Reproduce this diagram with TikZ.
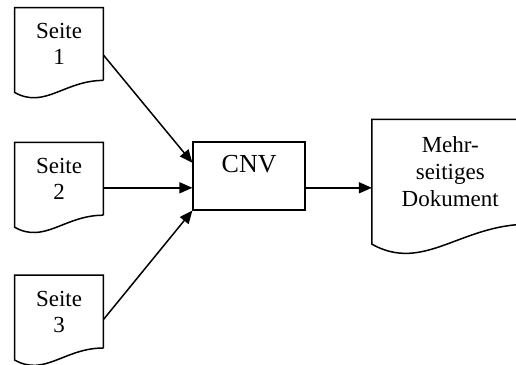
\documentclass[tikz,border=0pt]{standalone}
\usepackage{fontspec}
\setmainfont{Liberation Serif}
\usetikzlibrary{arrows.meta, positioning}

\begin{document}
\begin{tikzpicture}
				[x=0.5pt, y=-0.5pt,
				page/.style={rectangle, minimum width=44pt, minimum height=36pt, align=center, font=\fontsize{11.5}{13}\selectfont},
				result/.style={rectangle, minimum width=78pt, minimum height=52pt, align=center, font=\fontsize{11.5}{13.5}\selectfont},
				converter/.style={rectangle, draw, line width=0.75pt, minimum width=56pt, minimum height=34pt, text height=9pt, text depth=12.4pt, font=\fontsize{13}{15}\selectfont},
				outline/.style={line width=0.75pt},
				flow/.style={line width=0.75pt, -{Triangle[length=6.5pt, width=5.5pt]}}]
				\clip (0,0) rectangle (516,365);
				\node [page]  			(seite 1)		at (59,44)						{Seite\\1};
				\node [page]  			(seite 2)		[below=31pt of seite 1]		{Seite\\2};
				\node [page] 			(seite 3)		[below=30pt of seite 2]		{Seite\\3};
				\node [converter]  	(cnv)			[right=44.5pt of seite 2, yshift=1.5pt]	{CNV};
				\node [result] 		(dokument) 	[right=33pt of cnv, yshift=2pt]	{Mehr-\\seitiges\\Dokument};
				% Umrisse der Seiten
				\foreach \n in {seite 1, seite 2, seite 3}
					\draw [outline] (\n.south east) -- (\n.north east) -- (\n.north west) -- ([yshift=-6pt]\n.south west)
						.. controls +(15pt,-8.5pt) and +(-19.5pt,0pt) .. (\n.south east);
				\draw [outline] (dokument.south east) -- (dokument.north east) -- (dokument.north west) -- ([yshift=-10pt]dokument.south west)
					.. controls +(26pt,-14.5pt) and +(-34pt,0pt) .. (dokument.south east);
				% Pfeile
				\draw [flow] ([yshift=-5.5pt]seite 1.east) -- ([yshift=6.5pt]cnv.west);
				\draw [flow] ([yshift=-4.5pt]seite 2.east) -- ([yshift=-6pt]cnv.west);
				\draw [flow] ([yshift=-4pt]seite 3.east) -- (cnv.south west);
				\draw [flow] ([yshift=-6pt]cnv.east) -- ([yshift=-6pt]cnv.east -| dokument.west);
			\end{tikzpicture}
\end{document}
